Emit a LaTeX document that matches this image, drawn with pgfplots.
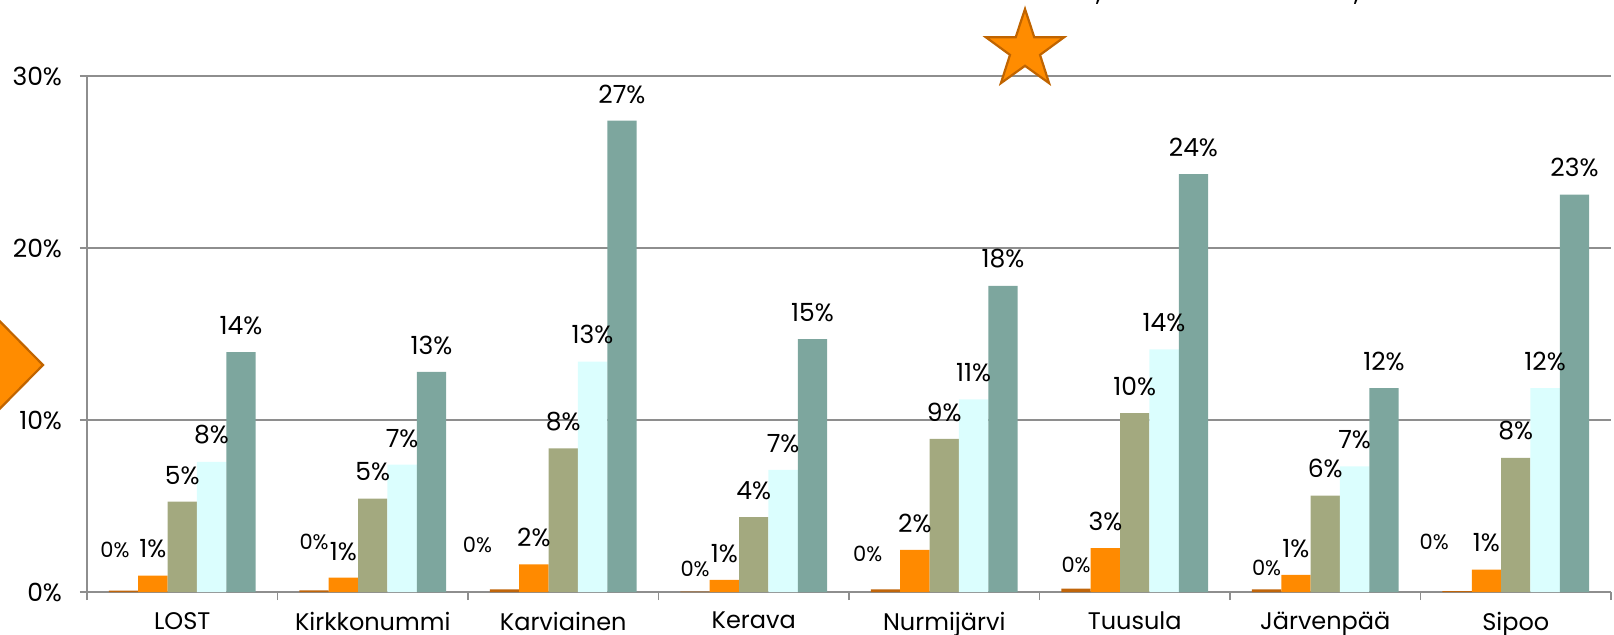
\documentclass[border=0pt]{standalone}
\usepackage{fontspec}
\setmainfont{Poppins}
\usepackage{pgfplots}
\pgfplotsset{compat=1.18}
\definecolor{cA}{HTML}{C0650A}
\definecolor{cB}{HTML}{FF8A00}
\definecolor{cC}{HTML}{A3A97F}
\definecolor{cD}{HTML}{DBFEFE}
\definecolor{cE}{HTML}{7DA69E}
\definecolor{gridc}{HTML}{8E8E8E}
\definecolor{starfill}{HTML}{FF8C00}
\definecolor{stardraw}{HTML}{C06400}
\begin{document}
\begin{tikzpicture}
\begin{axis}[
  scale only axis, width=762pt, height=258pt,
  xmin=-0.5, xmax=7.5, ymin=0, ymax=30,
  clip=false,
  axis x line*=bottom, axis y line*=left,
  axis line style={gridc, line width=0.8pt, -},
  /pgf/number format/assume math mode=true,
  ytick={0,10,20,30},
  yticklabel={\pgfmathprintnumber{\tick}\%},
  ymajorgrids, grid style={gridc, line width=0.8pt},
  xtick={0,...,7},
  xticklabels={LOST,Kirkkonummi,Karviainen,Kerava,Nurmijärvi,Tuusula,Järvenpää,Sipoo},
  major x tick style={draw=none},
  minor xtick={-0.5,0.5,...,7.5},
  minor x tick style={gridc, line width=0.8pt},
  minor tick length=4pt,
  major tick length=3.5pt,
  tick align=outside,
  ytick style={gridc, line width=0.8pt},
  tick label style={font=\fontsize{12.5}{14}\selectfont, text=black},
  xticklabel style={yshift=-3pt, font=\fontsize{12}{14}\selectfont},
  yticklabel style={xshift=-5.5pt},
  every node near coord/.append style={font=\fontsize{12.5}{14}\selectfont, inner sep=0pt, anchor=south, yshift=8.5pt},
]
\addplot[ybar, bar width=0.154, bar shift=-0.308, fill=cA, draw=none]
 coordinates {(0,0.08) (1,0.1) (2,0.15) (3,0.02) (4,0.15) (5,0.2) (6,0.15) (7,0.05)};
\addplot[ybar, bar width=0.154, bar shift=-0.154, fill=cB, draw=none,
  every node near coord/.append style={xshift=-14.67pt},
  nodes near coords={\pgfmathprintnumber[fixed,precision=0]{\pgfplotspointmeta}\%}]
 coordinates {(0,0.95) (1,0.83) (2,1.6) (3,0.7) (4,2.45) (5,2.55) (6,1.0) (7,1.3)};
\addplot[ybar, bar width=0.154, bar shift=0, fill=cC, draw=none,
  nodes near coords={\pgfmathprintnumber[fixed,precision=0]{\pgfplotspointmeta}\%}]
 coordinates {(0,5.25) (1,5.43) (2,8.35) (3,4.35) (4,8.9) (5,10.4) (6,5.6) (7,7.8)};
\addplot[ybar, bar width=0.154, bar shift=0.154, fill=cD, draw=none,
  every node near coord/.append style={xshift=14.67pt},
  nodes near coords={\pgfmathprintnumber[fixed,precision=0]{\pgfplotspointmeta}\%}]
 coordinates {(0,7.57) (1,7.4) (2,13.4) (3,7.1) (4,11.2) (5,14.1) (6,7.3) (7,11.85)};
\addplot[ybar, bar width=0.154, bar shift=0.308, fill=cE, draw=none,
  every node near coord/.append style={xshift=29.34pt},
  nodes near coords={\pgfmathprintnumber[fixed,precision=0]{\pgfplotspointmeta}\%}]
 coordinates {(0,13.95) (1,12.8) (2,27.4) (3,14.7) (4,17.8) (5,24.3) (6,11.85) (7,23.1)};
\addplot[draw=none, mark=none, nodes near coords, point meta=explicit symbolic,
  every node near coord/.style={font=\fontsize{10.5}{12}\selectfont, anchor=center, inner sep=0pt}]
 coordinates {(-0.353,2.44) [0\%] (0.692,2.92) [0\%] (1.55,2.73) [0\%] (2.692,1.33) [0\%]
   (3.598,2.22) [0\%] (4.692,1.57) [0\%] (5.692,1.40) [0\%] (6.572,2.92) [0\%]};
\end{axis}
% star
\draw[fill=starfill, draw=stardraw, line width=1.1pt, line join=miter, shift={(469pt,271pt)}]
  (90:20.5pt) -- (126:7.9pt) -- (162:20.5pt) -- (198:7.9pt) -- (234:20.5pt) -- (270:7.9pt)
  -- (306:20.5pt) -- (342:7.9pt) -- (18:20.5pt) -- (54:7.9pt) -- cycle;
% arrow at left
\draw[fill=starfill, draw=stardraw, line width=1.1pt, line join=miter]
  (-60pt,152pt) -- (-22pt,113.5pt) -- (-60pt,75pt) -- cycle;
\node[anchor=base, inner sep=0pt, font=\fontsize{14}{16}\selectfont] at (506pt,296pt) {,};
\node[anchor=base, inner sep=0pt, font=\fontsize{14}{16}\selectfont] at (635pt,296pt) {,};
\pgfresetboundingbox
\path[use as bounding box] (-43.5pt,-21pt) rectangle (763.5pt,296pt);
\end{tikzpicture}
\end{document}
